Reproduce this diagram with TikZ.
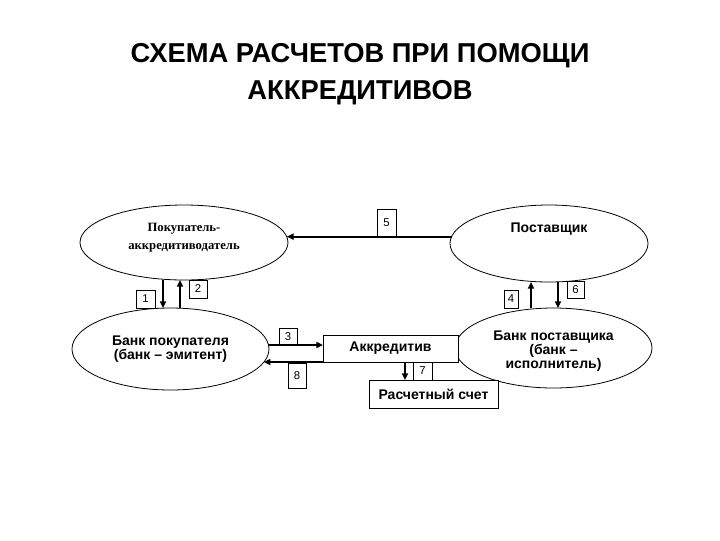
\documentclass[tikz,border=0pt]{standalone}
\usepackage{fontspec}
\setmainfont{Liberation Sans}
\newfontfamily\serifface{Liberation Serif}
\usetikzlibrary{
  shapes.geometric,
  arrows.meta,
  calc
}
\tikzset{
partyellipse/.style={
  draw,
  ellipse,
  line width=0.6pt,
  inner sep=2pt,
  outer sep=0pt,
  align=center,
  font=\bfseries\fontsize{10.5}{10.5}\selectfont
},
docbox/.style={
  draw,
  fill=white,
  line width=0.6pt,
  inner sep=0pt,
  outer sep=0pt,
  font=\bfseries\fontsize{10.5}{12}\selectfont
},
numbox/.style={
  draw,
  line width=0.5pt,
  inner sep=0pt,
  outer sep=0pt,
  font=\fontsize{8.5}{10}\selectfont
},
flow/.style={
  -{Triangle[length=5pt,width=4.5pt]},
  line width=1.5pt
},
titletext/.style={
  font=\bfseries\fontsize{20.5}{27.75}\selectfont,
  align=center,
  inner sep=0pt
}
}
\begin{document}
\begin{tikzpicture}[x=0.75pt, y=-0.75pt]
  \useasboundingbox (0,0) rectangle (720,540);
  % Title
  \node[titletext, anchor=north] (title) at (360,43)
    {СХЕМА РАСЧЕТОВ ПРИ ПОМОЩИ\\АККРЕДИТИВОВ};
  % Parties and banks
  \node[partyellipse, minimum width=156pt, minimum height=56.25pt,
        font=\serifface\bfseries\fontsize{9.5}{13.5}\selectfont, text depth=9pt]
    (buyer) at (184,242.5) {Покупатель-\\аккредитиводатель};
  \node[partyellipse, minimum width=148.5pt, minimum height=57.75pt, text depth=24pt]
    (supplier) at (549,243.5) {Поставщик};
  \node[partyellipse, minimum width=147.75pt, minimum height=61.5pt]
    (buyerbank) at (170.5,349) {Банк покупателя\\(банк – эмитент)};
  \node[partyellipse, minimum width=147.75pt, minimum height=60pt, text height=33pt]
    (supplierbank) at (553.5,348) {Банк поставщика\\(банк –\\исполнитель)};
  % Documents
  \node[docbox, minimum width=101.25pt, minimum height=20.25pt]
    (credit) at (390.5,348.5) {Аккредитив};
  \node[docbox, minimum width=96.75pt, minimum height=21pt]
    (account) at (433.5,394) {Расчетный счет};
  % Flows
  \draw[flow] (supplier.176) -- (supplier.176 -| buyer.3);
  \draw[flow] ([xshift=-15.75pt]buyer.south) -- ([xshift=-15.75pt]buyer.south |- buyerbank.north);
  \draw[flow] ([xshift=-3pt]buyer.south |- buyerbank.north) -- ([xshift=-3pt]buyer.south);
  \draw[flow] ([yshift=2.6pt]credit.west -| buyerbank.east) -- ([yshift=2.6pt]credit.west);
  \draw[flow] ([xshift=-13.5pt]supplier.south |- supplierbank.north) -- ([xshift=-13.5pt]supplier.south);
  \draw[flow] ([xshift=6.75pt]supplier.south) -- ([xshift=6.75pt]supplier.south |- supplierbank.north);
  \draw[flow] ([xshift=10.9pt]credit.south) -- ([xshift=10.9pt]credit.south |- account.north);
  \draw[flow] (credit.south west) -- (credit.south west -| buyerbank.-8);
  % Step numbers
  \node[numbox, minimum width=14.25pt, minimum height=13.5pt] (n1) at (145.5,299) {1};
  \node[numbox, minimum width=13.5pt, minimum height=13.5pt] (n2) at (198,289) {2};
  \node[numbox, minimum width=13.5pt, minimum height=12.75pt] (n3) at (288,336.5) {3};
  \node[numbox, minimum width=10.5pt, minimum height=13.5pt] (n4) at (511,299) {4};
  \node[numbox, minimum width=14.25pt, minimum height=21pt] (n5) at (386.5,223) {5};
  \node[numbox, minimum width=12.75pt, minimum height=12.75pt] (n6) at (575.5,289.5) {6};
  \node[numbox, minimum width=14.25pt, minimum height=13.5pt] (n7) at (422.5,371) {7};
  \node[numbox, minimum width=13.5pt, minimum height=18.75pt] (n8) at (297,375.5) {8};
\end{tikzpicture}
\end{document}
